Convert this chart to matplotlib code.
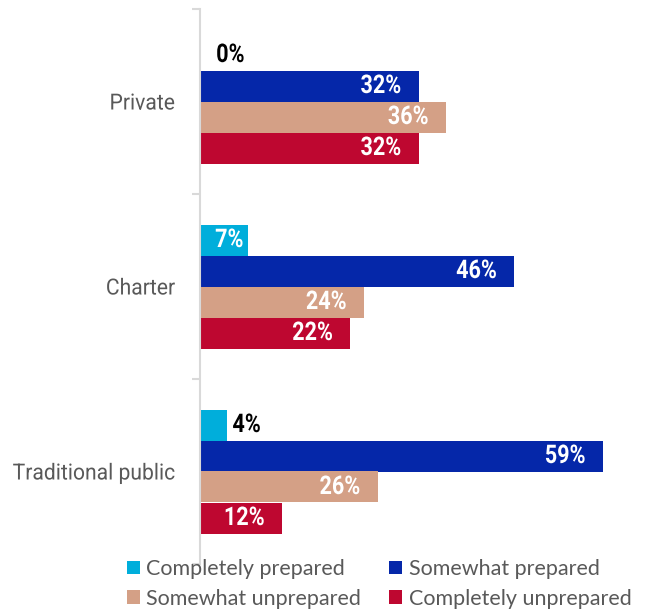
import numpy as np
import matplotlib.pyplot as plt
from matplotlib.ticker import FixedLocator
from matplotlib.patheffects import AbstractPathEffect
from matplotlib.transforms import Affine2D

# survey shares by school type
categories = ['Private', 'Charter', 'Traditional public']
series = ['Completely prepared', 'Somewhat prepared', 'Somewhat unprepared', 'Completely unprepared']
completely_prepared = [0, 7, 4]
somewhat_prepared = [32, 46, 59]
somewhat_unprepared = [36, 24, 26]
completely_unprepared = [32, 22, 12]
colors = ['#00AEDB', '#0527A9', '#D4A086', '#BE0730']

values = [completely_prepared, somewhat_prepared, somewhat_unprepared, completely_unprepared]


# no condensed font installed, so squeeze the glyph paths horizontally
class Condense(AbstractPathEffect):
    def __init__(self, sx=0.86, anchor='left'):
        super().__init__()
        self.sx = sx
        self.anchor = anchor

    def draw_path(self, renderer, gc, tpath, affine, rgbFace=None):
        ext = tpath.get_extents(affine)
        x0 = ext.x0 if self.anchor == 'left' else ext.x1
        affine = affine + Affine2D().translate(-x0, 0).scale(self.sx, 1).translate(x0, 0)
        renderer.draw_path(gc, tpath, affine, rgbFace)


fig = plt.figure(figsize=(6.59, 6.12), dpi=100)
ax = fig.add_axes([200 / 659, 1 - 564 / 612, 459 / 659, 555 / 612])

y = np.arange(len(categories))
h = 31 / 185
bars = []
for j, (name, vals, col) in enumerate(zip(series, values, colors)):
    b = ax.barh(y + (j - 1.5) * h, vals, height=h, color=col, label=name)
    bars.append(b)
    for yi, v in zip(y + (j - 1.5) * h, vals):
        if v < 5:
            # small values sit outside the bar in black
            pos, off, ha, c, anc = v, max(5, 16 - v * 6.83), 'left', 'black', 'left'
        elif v < 10:
            pos, off, ha, c, anc = 0, 15, 'left', 'white', 'left'
        else:
            pos, off, ha, c, anc = v, -17, 'right', 'white', 'right'
        ax.annotate(f'{v}%', (pos, yi), xytext=(off * 0.72, 0), textcoords='offset points',
                    ha=ha, va='center', fontsize=18.5, fontweight='bold', family='Roboto',
                    color=c, path_effects=[Condense(0.84, anc)])

ax.set_xlim(0, 459 / 6.83)
ax.set_ylim(2.5, -0.5)
ax.set_xticks([])
ax.yaxis.set_major_locator(FixedLocator([-0.5, 0.5, 1.5, 2.5]))
ax.yaxis.set_major_formatter(plt.NullFormatter())
ax.yaxis.set_minor_locator(FixedLocator(list(y)))
ax.set_yticklabels(categories, minor=True)
ax.tick_params(axis='y', which='major', length=6, width=1.5, color='#D9D9D9')
ax.tick_params(axis='y', which='minor', length=0, pad=18, labelsize=16, labelcolor='#595959')
for lab in ax.get_yticklabels(minor=True):
    lab.set_family('Roboto')
    lab.set_path_effects([Condense(0.95, 'right')])
for s in ['top', 'right', 'bottom']:
    ax.spines[s].set_visible(False)
ax.spines['left'].set_color('#D9D9D9')
ax.spines['left'].set_linewidth(1.5)

order = [0, 2, 1, 3]
fig.legend([bars[i] for i in order], [series[i] for i in order],
           loc='upper left', bbox_to_anchor=(127 / 659, 1 - 559 / 612), ncol=2,
           frameon=False, borderpad=0, borderaxespad=0, handlelength=0.6, handleheight=0.6,
           handletextpad=0.3, columnspacing=1.3, labelspacing=0.45,
           prop={'family': 'Lato', 'size': 15.5}, labelcolor='#595959')

fig.savefig('out.png', dpi=100)
